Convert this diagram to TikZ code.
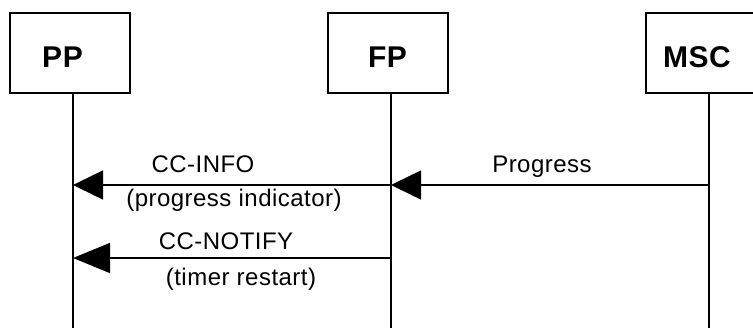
\documentclass[tikz,border=0pt]{standalone}
\usepackage{fontspec}
\setmainfont{Liberation Sans}[LetterSpace=2]
\usetikzlibrary{arrows.meta}
\begin{document}
\begin{tikzpicture}[x=1pt,y=-1pt,
  entity/.style={draw,line width=1.5pt,minimum width=120pt,minimum height=80pt,inner sep=0pt,anchor=north west},
  ename/.style={font=\fontsize{30}{34}\selectfont\bfseries,anchor=base,inner sep=0pt},
  lifeline/.style={line width=1.5pt},
  msg/.style={line width=1.5pt,-{Triangle[length=30pt,width=29pt]}},
  msgb/.style={line width=1.5pt,-{Triangle[length=37pt,width=30pt]}},
  lbl/.style={font=\fontsize{24}{28}\selectfont,anchor=base,inner sep=0pt}]
\clip (0,0) rectangle (753,327);
% entity boxes
\node[entity] (ppbox) at (9,12.3) {};
\node[entity] (fpbox) at (327,12.3) {};
\node[entity] (mscbox) at (645,12.3) {};
\node[ename] (ppname) at (62.5,67) {PP};
\node[ename] (fpname) at (387.5,67) {FP};
\node[ename] (mscname) at (697,67) {MSC};
% lifelines
\coordinate (pptop) at (73,92.3);
\coordinate (fptop) at (391,92.3);
\coordinate (msctop) at (709,92.3);
\coordinate (ppbot) at (73,330);
\coordinate (fpbot) at (391,330);
\coordinate (mscbot) at (709,330);
\draw[lifeline] (pptop) -- (ppbot);
\draw[lifeline] (fptop) -- (fpbot);
\draw[lifeline] (msctop) -- (mscbot);
% message points
\coordinate (msc1) at (709,185);
\coordinate (fp1) at (391,185);
\coordinate (pp1) at (73,185);
\coordinate (fp2) at (391,258);
\coordinate (pp2) at (73,258);
% messages
\draw[msg] (msc1) -- (fp1);
\draw[msg] (fp1) -- (pp1);
\draw[msgb] (fp2) -- (pp2);
% labels
\node[lbl] (lprog) at (542,172) {Progress};
\node[lbl] (linfo) at (203,172) {CC-INFO};
\node[lbl] (linfob) at (234,206.5) {(progress indicator)};
\node[lbl] (lnot) at (226,249) {CC-NOTIFY};
\node[lbl] (lnotb) at (241,285) {(timer restart)};
\end{tikzpicture}
\end{document}
